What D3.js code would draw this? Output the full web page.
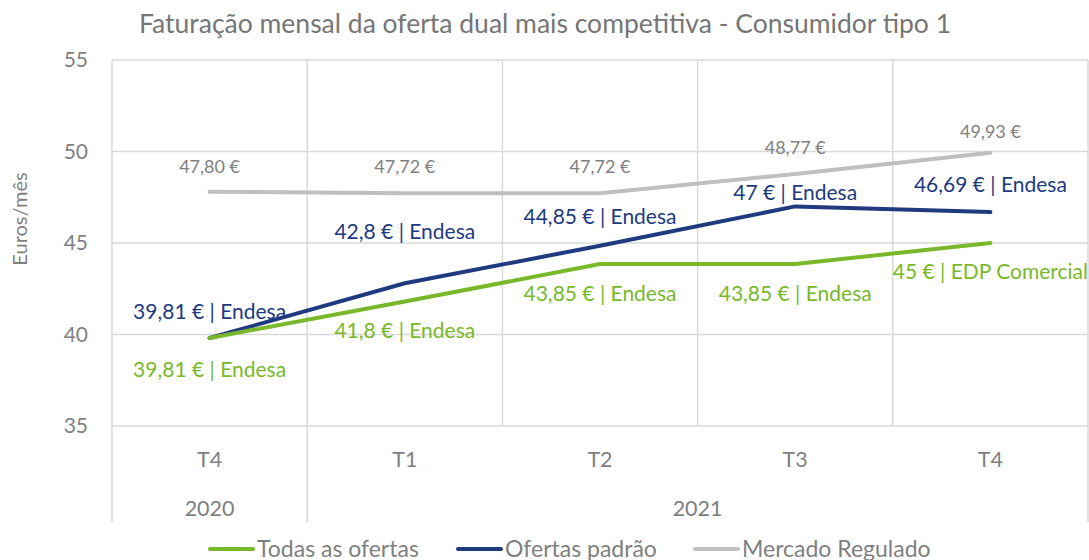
<!DOCTYPE html>
<html>
<head>
<meta charset="utf-8">
<script src="https://cdn.jsdelivr.net/npm/d3@7"></script>
<style>
  body { margin: 0; background: #fff; }
  text { font-family: Lato, "Open Sans", sans-serif; }
</style>
</head>
<body>
<div class="output"></div>
<script>
// Dados
const quarters = ["T4", "T1", "T2", "T3", "T4"];
const years = [{ label: "2020", from: 0, to: 0 }, { label: "2021", from: 1, to: 4 }];
const todasOfertas = [39.81, 41.8, 43.85, 43.85, 45];
const todasLabels = ["39,81 € | Endesa", "41,8 € | Endesa", "43,85 € | Endesa", "43,85 € | Endesa", "45 € | EDP Comercial"];
const ofertasPadrao = [39.81, 42.8, 44.85, 47, 46.69];
const padraoLabels = ["39,81 € | Endesa", "42,8 € | Endesa", "44,85 € | Endesa", "47 € | Endesa", "46,69 € | Endesa"];
const mercadoRegulado = [47.80, 47.72, 47.72, 48.77, 49.93];
const reguladoLabels = ["47,80 €", "47,72 €", "47,72 €", "48,77 €", "49,93 €"];
const yTicks = [35, 40, 45, 50, 55];

const width = 1089, height = 560;
const margin = { left: 112, right: 1, top: 60, bottom: 134 };
const gridColor = "#d9d9d9";
const textColor = "#7f7f7f";

const series = [
    { name: "Todas as ofertas", values: todasOfertas, labels: todasLabels, color: "#78b82a", size: 21, dy: [32, 29, 30, 30, 29] },
    { name: "Ofertas padrão", values: ofertasPadrao, labels: padraoLabels, color: "#203a7f", size: 21, dy: [-26, -52, -29, -14, -27] },
    { name: "Mercado Regulado", values: mercadoRegulado, labels: reguladoLabels, color: "#bfbfbf", textColor: "#808080", size: 18, dy: [-25, -27, -27, -26, -21] }
];

const svg = d3.select(".output").append("svg")
    .attr("width", width)
    .attr("height", height);

let x = d3.scaleBand()
    .domain(d3.range(quarters.length))
    .range([margin.left, width - margin.right])
    .padding(0);
let cx = (i) => x(i) + x.bandwidth() / 2;

let y = d3.scaleLinear()
    .domain([35, 55])
    .range([height - margin.bottom, margin.top]);

// Grelha
svg.append("g")
    .selectAll("line")
    .data(yTicks)
    .enter().append("line")
    .attr("x1", margin.left)
    .attr("x2", width - margin.right)
    .attr("y1", (d) => y(d))
    .attr("y2", (d) => y(d))
    .attr("stroke", gridColor)
    .attr("stroke-width", 1.5);

// linhas verticais (separadores de categoria)
let bounds = d3.range(quarters.length + 1);
let yearBounds = [0, 1, quarters.length];
svg.append("g")
    .selectAll("line")
    .data(bounds)
    .enter().append("line")
    .attr("x1", (d) => d < quarters.length ? x(d) : width - margin.right)
    .attr("x2", (d) => d < quarters.length ? x(d) : width - margin.right)
    .attr("y1", margin.top)
    .attr("y2", (d) => yearBounds.includes(d) ? 522 : y(35))
    .attr("stroke", gridColor)
    .attr("stroke-width", 1.5);

// Eixo Y
svg.append("g")
    .selectAll("text")
    .data(yTicks)
    .enter().append("text")
    .attr("x", 88)
    .attr("y", (d) => y(d))
    .attr("dy", "0.35em")
    .attr("text-anchor", "end")
    .attr("fill", textColor)
    .style("font-size", "21px")
    .text((d) => d);

svg.append("text")
    .attr("transform", "translate(27,219) rotate(-90)")
    .attr("text-anchor", "middle")
    .attr("fill", textColor)
    .style("font-size", "20px")
    .text("Euros/mês");

// Eixo X
svg.append("g")
    .selectAll("text")
    .data(quarters)
    .enter().append("text")
    .attr("x", (d, i) => cx(i))
    .attr("y", 459)
    .attr("dy", "0.35em")
    .attr("text-anchor", "middle")
    .attr("fill", textColor)
    .style("font-size", "21.5px")
    .text((d) => d);

svg.append("g")
    .selectAll("text")
    .data(years)
    .enter().append("text")
    .attr("x", (d) => (x(d.from) + x(d.to) + x.bandwidth()) / 2)
    .attr("y", 508)
    .attr("dy", "0.35em")
    .attr("text-anchor", "middle")
    .attr("fill", textColor)
    .style("font-size", "21.5px")
    .text((d) => d.label);

// Título
svg.append("text")
    .attr("x", 545)
    .attr("y", 33)
    .attr("text-anchor", "middle")
    .attr("fill", "#767676")
    .style("font-size", "26.5px")
    .text("Faturação mensal da oferta dual mais competitiva - Consumidor tipo 1");

// Linhas
let line = d3.line()
    .x((d, i) => cx(i))
    .y((d) => y(d));

svg.append("g")
    .selectAll("path")
    .data(series.slice().reverse())
    .enter().append("path")
    .attr("d", (d) => line(d.values))
    .attr("fill", "none")
    .attr("stroke", (d) => d.color)
    .attr("stroke-width", 4)
    .attr("stroke-linecap", "round")
    .attr("stroke-linejoin", "round");

// Rótulos
series.forEach((s) => {
    svg.append("g")
        .selectAll("text")
        .data(s.values)
        .enter().append("text")
        .attr("x", (d, i) => cx(i))
        .attr("y", (d, i) => y(d) + s.dy[i])
        .attr("dy", "0.35em")
        .attr("text-anchor", "middle")
        .attr("fill", s.textColor || s.color)
        .style("font-size", s.size + "px")
        .text((d, i) => s.labels[i]);
});

// Legenda
let legendX = [210, 458, 695];
let legend = svg.append("g")
    .selectAll("g")
    .data(series)
    .enter().append("g")
    .attr("transform", (d, i) => "translate(" + legendX[i] + ",549)");
legend.append("line")
    .attr("x1", 0).attr("x2", 43)
    .attr("stroke", (d) => d.color)
    .attr("stroke-width", 4)
    .attr("stroke-linecap", "round");
legend.append("text")
    .attr("x", 47)
    .attr("dy", "0.35em")
    .attr("fill", textColor)
    .style("font-size", "23px")
    .text((d) => d.name);
</script>
</body>
</html>
